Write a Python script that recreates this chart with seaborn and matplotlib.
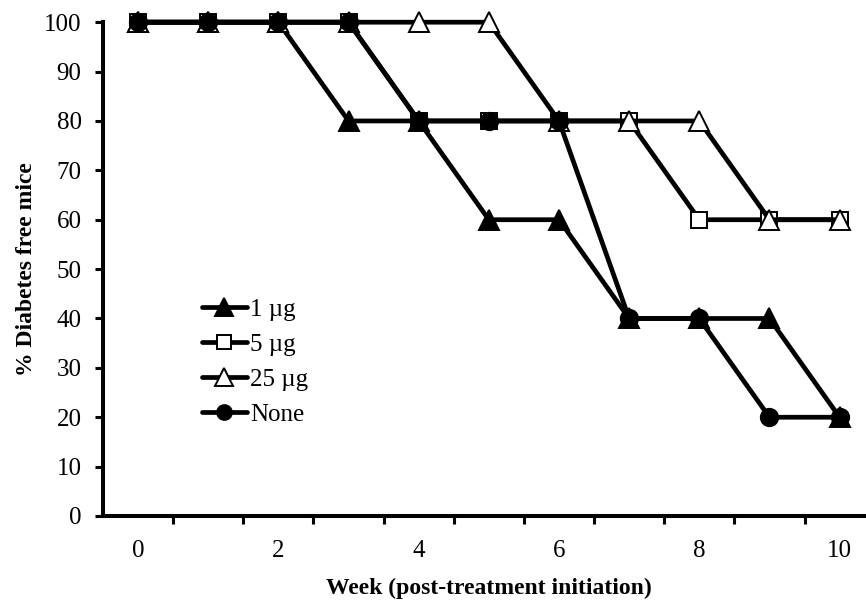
import numpy as np
import pandas as pd
import matplotlib
matplotlib.use("Agg")
import matplotlib.pyplot as plt
import seaborn as sns

# --- data ---
weeks = [0, 1, 2, 3, 4, 5, 6, 7, 8, 9, 10]
ug1 = [100, 100, 100, 80, 80, 60, 60, 40, 40, 40, 20]
ug5 = [100, 100, 100, 100, 80, 80, 80, 80, 60, 60, 60]
ug25 = [100, 100, 100, 100, 100, 100, 80, 80, 80, 60, 60]
none = [100, 100, 100, 100, 80, 80, 80, 40, 40, 20, 20]

# label, values, marker, face colour, marker size
series = [
    ("1 \u00b5g", ug1, "^", "black", 14.5),
    ("5 \u00b5g", ug5, "s", "white", 11.5),
    ("25 \u00b5g", ug25, "^", "white", 14.5),
    ("None", none, "o", "black", 12.5),
]

sns.set_style("white")
plt.rcParams["font.family"] = ["Liberation Serif", "DejaVu Serif"]
for k in ["text.color", "axes.labelcolor", "xtick.color", "ytick.color"]:
    plt.rcParams[k] = "black"

fig = plt.figure(figsize=(8.66, 6), dpi=100)
ax = fig.add_axes([0.119, 0.14, 0.891, 0.823])

for label, vals, mk, fc, ms in series:
    df = pd.DataFrame({"week": weeks, "pct": vals})
    sns.lineplot(data=df, x="week", y="pct", ax=ax, color="black",
                 linewidth=3.4, marker=mk, markersize=ms,
                 markerfacecolor=fc, markeredgecolor="black",
                 markeredgewidth=1.4, label=label, clip_on=False)

ax.set_xlim(-0.5, 10.5)
ax.set_ylim(0, 100)
ax.set_yticks(np.arange(0, 101, 10))
ax.set_xticks(np.arange(0, 11, 2))
ax.set_xticks(np.arange(0.5, 10.5, 1), minor=True)
ax.tick_params(axis="x", which="major", length=0, pad=17, labelsize=18)
ax.tick_params(axis="x", which="minor", length=5.5, width=2.2, direction="out",
               color="black", bottom=True)
ax.tick_params(axis="y", which="major", length=5.5, width=2.2, direction="out",
               color="black", labelsize=18, pad=10, left=True)

for s in ["top", "right"]:
    ax.spines[s].set_visible(False)
for s in ["left", "bottom"]:
    ax.spines[s].set_linewidth(2.9)
    ax.spines[s].set_color("black")
    ax.spines[s].set_capstyle("projecting")

ax.set_xlabel("Week (post-treatment initiation)", fontsize=17,
              fontweight="bold", labelpad=12)
ax.set_ylabel("% Diabetes free mice", fontsize=17, fontweight="bold",
              labelpad=5)

leg = ax.legend(loc="upper left", bbox_to_anchor=(0.128, 0.44), frameon=False,
                fontsize=18, handlelength=1.8, handletextpad=0.12,
                labelspacing=0.5, borderpad=0, borderaxespad=0,
                markerscale=0.85)

fig.savefig("out.png", dpi=100)
